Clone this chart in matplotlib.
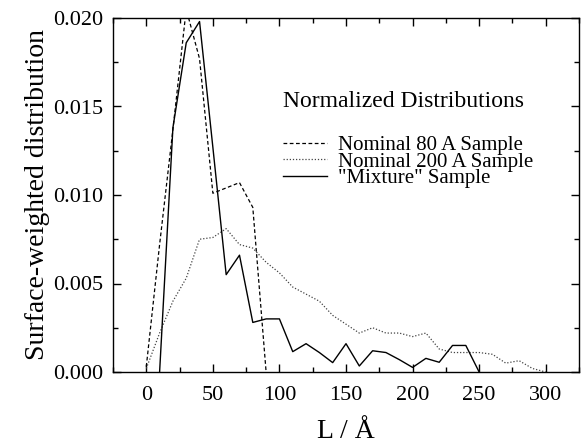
import numpy as np
import matplotlib
matplotlib.use('Agg')
import matplotlib.pyplot as plt
from matplotlib.ticker import MultipleLocator

plt.rcParams['font.family'] = ['Liberation Serif', 'DejaVu Serif']

# size L (Angstrom), 10 A steps
L80 = [0, 10, 20, 30, 40, 50, 60, 70, 80, 90]
nominal80 = [0.0003, 0.0072, 0.0137, 0.0205, 0.0177, 0.0101, 0.0104, 0.0107, 0.0093, 0.0]

L200 = [0, 10, 20, 30, 40, 50, 60, 70, 80, 90, 100, 110, 120, 130, 140, 150,
        160, 170, 180, 190, 200, 210, 220, 230, 240, 250, 260, 270, 280, 290, 300]
nominal200 = [0.0002, 0.0022, 0.0040, 0.0053, 0.0075, 0.0076, 0.0081, 0.0072,
              0.0070, 0.0062, 0.0056, 0.0048, 0.0044, 0.0040, 0.0032, 0.0027,
              0.0022, 0.0025, 0.0022, 0.0022, 0.0020, 0.0022, 0.0013, 0.0011,
              0.0011, 0.0011, 0.0010, 0.0005, 0.00064, 0.0002, 0.0]

Lmix = [10, 20, 30, 40, 50, 60, 70, 80, 90, 100, 110, 120, 130, 140, 150,
        160, 170, 180, 190, 200, 210, 220, 230, 240, 250]
mixture = [0.0, 0.0138, 0.0186, 0.0198, 0.0127, 0.0055, 0.0066, 0.0028, 0.0030,
           0.0030, 0.00115, 0.0016, 0.0011, 0.00053, 0.0016, 0.00034, 0.0012,
           0.0011, 0.0007, 0.00026, 0.00077, 0.00055, 0.0015, 0.0015, 0.0]

fig = plt.figure(figsize=(5.81, 4.44), dpi=100)
ax = fig.add_axes([113/581, 72/444, 466/581, 354/444])

l1, = ax.plot(L80, nominal80, color='black', lw=0.9, linestyle=(0, (3, 2)))
l2, = ax.plot(L200, nominal200, color='#444444', lw=0.9, linestyle=(0, (1, 1.5)))
l3, = ax.plot(Lmix, mixture, color='black', lw=1.0)

ax.set_xlim(-25, 325)
ax.set_ylim(0, 0.020)
ax.xaxis.set_major_locator(MultipleLocator(50))
ax.xaxis.set_minor_locator(MultipleLocator(25))
ax.yaxis.set_major_locator(MultipleLocator(0.005))
ax.yaxis.set_minor_locator(MultipleLocator(0.0025))
ax.yaxis.set_major_formatter(matplotlib.ticker.FormatStrFormatter('%.3f'))
ax.tick_params(which='both', direction='in', top=True, right=True, labelsize=16, width=1)
ax.tick_params(which='major', length=6)
ax.tick_params(axis='x', which='major', pad=10)
ax.tick_params(axis='y', which='major', pad=7)
ax.tick_params(which='minor', length=3.5)
for s in ax.spines.values():
    s.set_linewidth(1)

ax.set_xlabel('L / Å', fontsize=20, labelpad=10)
ax.set_ylabel('Surface-weighted distribution', fontsize=20, labelpad=2)

ax.text(0.365, 0.765, 'Normalized Distributions', transform=ax.transAxes,
        fontsize=17, va='center', ha='left')
ax.legend([l1, l2, l3], ['Nominal 80 A Sample', 'Nominal 200 A Sample', '"Mixture" Sample'],
          loc='upper left', bbox_to_anchor=(0.365, 0.668), frameon=False,
          fontsize=15, borderpad=0, borderaxespad=0, handlelength=2.1,
          handletextpad=0.55, labelspacing=-0.14)

fig.savefig('out.png', dpi=100)
